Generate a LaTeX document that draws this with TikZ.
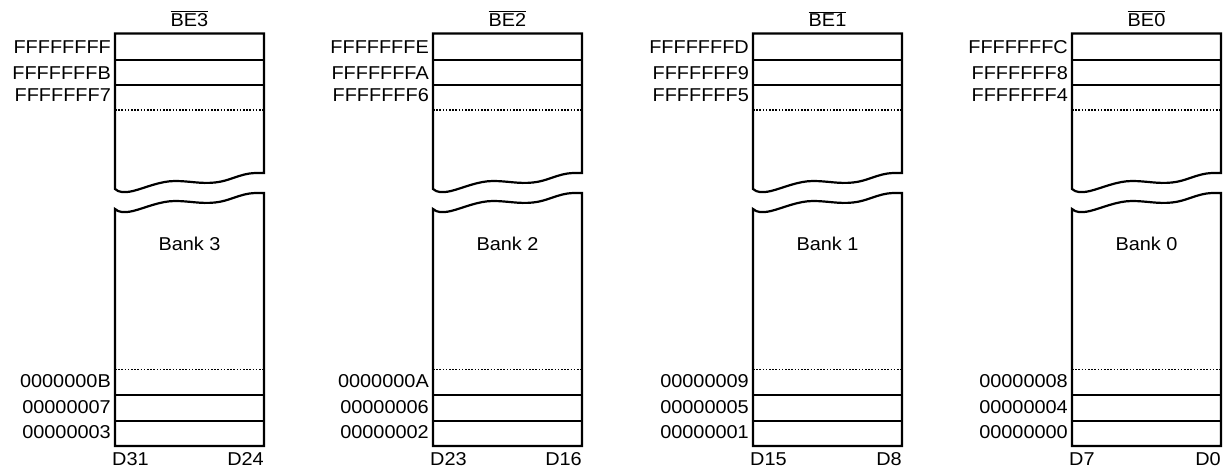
\documentclass[tikz,border=0pt]{standalone}
\usepackage{fontspec}
\setmainfont{Liberation Sans}[FakeStretch=1.07]
\begin{document}
\begin{tikzpicture}[x=1pt,y=-1pt,
  box/.style={line width=2.2pt, line join=miter},
  sepline/.style={line width=2pt},
  dotline/.style={line width=1.8pt, dash pattern=on 1.6pt off 1.6pt},
  lbl/.style={font=\fontsize{18.6}{20}\selectfont, inner sep=0pt}]
\useasboundingbox (0,0) rectangle (1225,469);
\foreach \n/\xo/\ta/\tb/\tc/\ba/\bb/\bc/\hi/\lo in {
  3/115/FFFFFFFF/FFFFFFFB/FFFFFFF7/0000000B/00000007/00000003/D31/D24,
  2/433/FFFFFFFE/FFFFFFFA/FFFFFFF6/0000000A/00000006/00000002/D23/D16,
  1/753/FFFFFFFD/FFFFFFF9/FFFFFFF5/00000009/00000005/00000001/D15/D8,
  0/1072/FFFFFFFC/FFFFFFF8/FFFFFFF4/00000008/00000004/00000000/D7/D0}{
\begin{scope}[xshift=\xo]
  % upper piece with wavy break
  \draw[box] (0,189) .. controls (4,192.5) and (9,193) .. (18,191)
     .. controls (30,188) and (45,181) .. (60,181)
     .. controls (75,181) and (85,184) .. (100,182.5)
     .. controls (115,181) and (125,173.5) .. (140,173)
     -- (149,173) -- (149,33.5) -- (0,33.5) -- cycle;
  % lower piece with wavy break
  \draw[box] (0,209) .. controls (4,212.5) and (9,213) .. (18,211)
     .. controls (30,208) and (45,201) .. (60,201)
     .. controls (75,201) and (85,204) .. (100,202.5)
     .. controls (115,201) and (125,193.5) .. (140,193)
     -- (149,193) -- (149,446) -- (0,446) -- cycle;
  % row separators
  \draw[sepline] (0,60) -- (149,60);
  \draw[sepline] (0,85) -- (149,85);
  \draw[dotline] (0,110) -- (149,110);
  \draw[dotline] (0,369.5) -- (149,369.5);
  \draw[sepline] (0,394.5) -- (149,394.5);
  \draw[sepline] (0,420.5) -- (149,420.5);
  % labels
  \node[lbl, anchor=base] (be\n) at (74.5,26) {$\overline{\mbox{BE\n}}$};
  \node[lbl, anchor=east] (ta\n) at (-4,47.5) {\ta};
  \node[lbl, anchor=east] (tb\n) at (-4,73) {\tb};
  \node[lbl, anchor=east] (tc\n) at (-4,95.5) {\tc};
  \node[lbl] (bank\n) at (74.5,244) {Bank \n};
  \node[lbl, anchor=east] (ba\n) at (-4,381.5) {\ba};
  \node[lbl, anchor=east] (bb\n) at (-4,407) {\bb};
  \node[lbl, anchor=east] (bc\n) at (-4,432.5) {\bc};
  \node[lbl, anchor=west] (hi\n) at (-3,459) {\hi};
  \node[lbl, anchor=east] (lo\n) at (149,459) {\lo};
\end{scope}
}
\end{tikzpicture}
\end{document}
